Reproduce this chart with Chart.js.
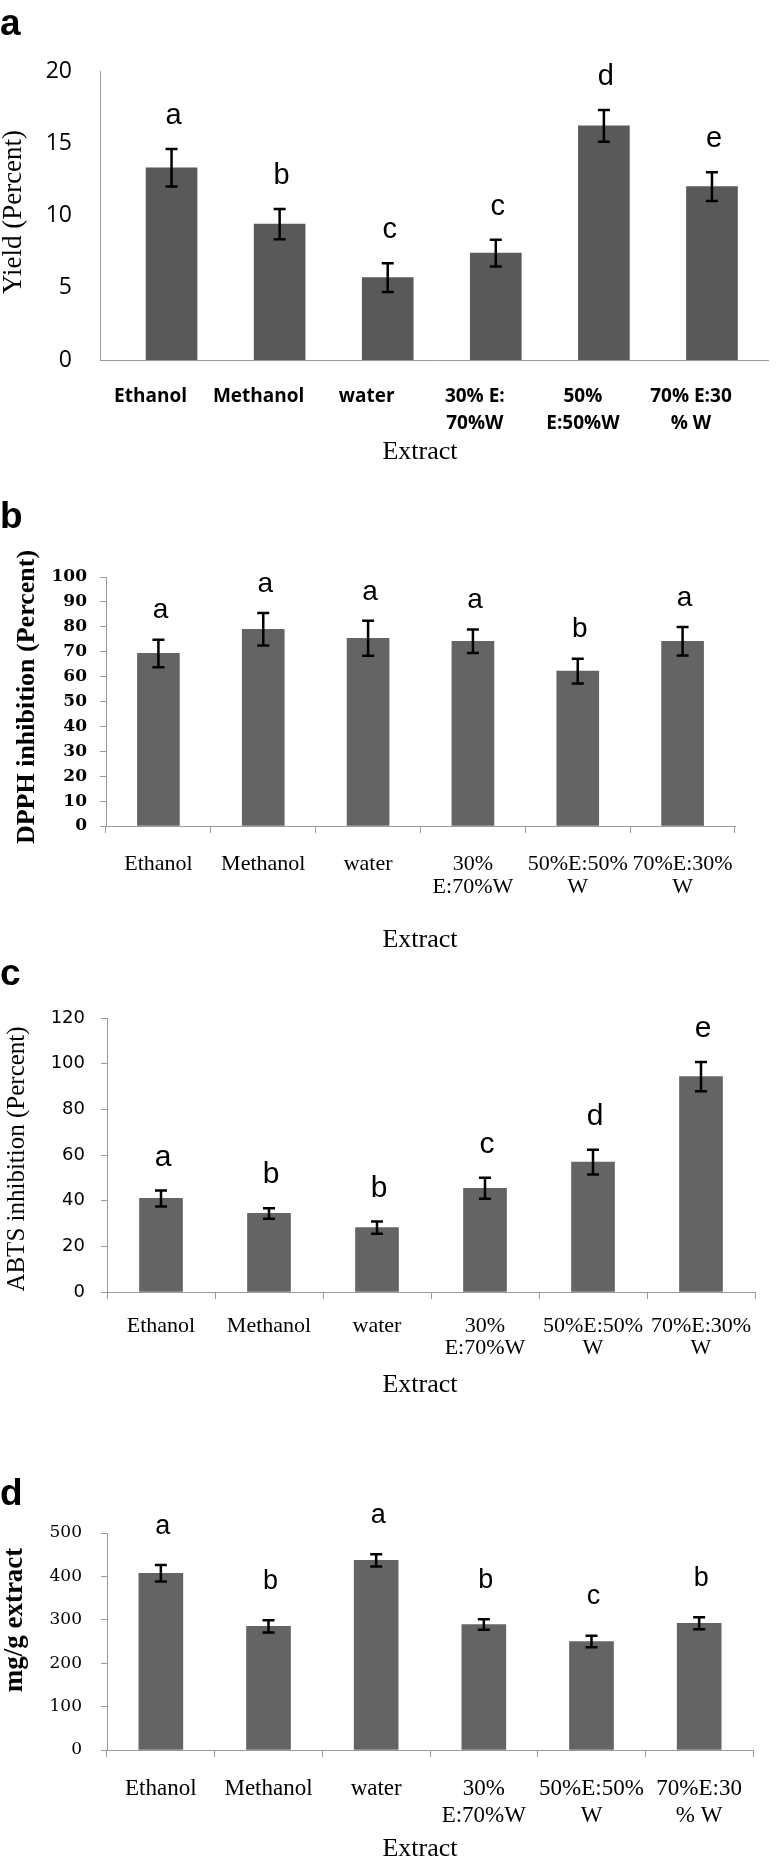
<!DOCTYPE html>
<html>
<head>
<meta charset="utf-8">
<script src="https://cdn.jsdelivr.net/npm/chart.js@4.4.1/dist/chart.umd.min.js"></script>
<style>
  html, body { margin: 0; padding: 0; background: #fff; overflow: hidden; }
  canvas { position: absolute; left: 0; }
</style>
</head>
<body>
<canvas id="chart-a" width="776" height="470" style="top:0px"></canvas>
<canvas id="chart-b" width="776" height="480" style="top:470px"></canvas>
<canvas id="chart-c" width="776" height="450" style="top:950px"></canvas>
<canvas id="chart-d" width="776" height="463" style="top:1400px"></canvas>
<script>
// (a) yield
const yieldLabels = [['Ethanol'], ['Methanol'], ['water'], ['30% E:', '70%W'], ['50%', 'E:50%W'], ['70% E:30', '% W']];
const yieldMean = [13.3, 9.4, 5.7, 7.4, 16.2, 12.0];
const yieldErr = [1.3, 1.05, 1.0, 0.93, 1.1, 1.0];
const yieldGroup = ['a', 'b', 'c', 'c', 'd', 'e'];
const yieldTicks = [0, 5, 10, 15, 20];

// (b) DPPH
const dpphLabels = [['Ethanol'], ['Methanol'], ['water'], ['30%', 'E:70%W'], ['50%E:50%', 'W'], ['70%E:30%', 'W']];
const dpphMean = [69.3, 79.0, 75.4, 74.2, 62.2, 74.2];
const dpphErr = [5.5, 6.5, 7.0, 4.7, 5.0, 5.7];
const dpphGroup = ['a', 'a', 'a', 'a', 'b', 'a'];
const dpphTicks = [0, 10, 20, 30, 40, 50, 60, 70, 80, 90, 100];

// (c) ABTS
const abtsLabels = [['Ethanol'], ['Methanol'], ['water'], ['30%', 'E:70%W'], ['50%E:50%', 'W'], ['70%E:30%', 'W']];
const abtsMean = [41.0, 34.4, 28.2, 45.4, 56.9, 94.3];
const abtsErr = [3.5, 2.3, 2.7, 4.6, 5.4, 6.4];
const abtsGroup = ['a', 'b', 'b', 'c', 'd', 'e'];
const abtsTicks = [0, 20, 40, 60, 80, 100, 120];

// (d) mg/g extract
const phenolLabels = [['Ethanol'], ['Methanol'], ['water'], ['30%', 'E:70%W'], ['50%E:50%', 'W'], ['70%E:30', '% W']];
const phenolMean = [407, 285, 437, 289, 250, 292];
const phenolErr = [19, 14, 14, 12, 13, 14];
const phenolGroup = ['a', 'b', 'a', 'b', 'c', 'b'];
const phenolTicks = [0, 100, 200, 300, 400, 500];

const SERIF = '"Liberation Serif", "Times New Roman", serif';
const SANS = '"Liberation Sans", Arial, sans-serif';
const AXIS = '#9a9a9a';

function buildPanel(id, p) {
    const canvas = document.getElementById(id);
    const H = canvas.height;

    // error bars, letters and titles
    const marks = {
        id: 'marks',
        afterDatasetsDraw(chart) {
            const c = chart.ctx;
            const yScale = chart.scales.y;
            const bars = chart.getDatasetMeta(0).data;
            c.save();
            c.strokeStyle = '#000';
            c.fillStyle = '#000';
            c.lineWidth = 2.5;
            c.font = p.letterFont;
            c.textAlign = 'center';
            c.textBaseline = 'middle';
            bars.forEach((bar, i) => {
                const x = bar.x;
                const hi = yScale.getPixelForValue(p.mean[i] + p.err[i]);
                const lo = yScale.getPixelForValue(p.mean[i] - p.err[i]);
                c.beginPath();
                c.moveTo(x, hi); c.lineTo(x, lo);
                c.moveTo(x - 6, hi); c.lineTo(x + 6, hi);
                c.moveTo(x - 6, lo); c.lineTo(x + 6, lo);
                c.stroke();
                c.fillText(p.group[i], x + 2, hi - p.letterGap);
            });
            c.restore();
        },
        afterDraw(chart) {
            const c = chart.ctx;
            c.save();
            c.fillStyle = '#000';
            c.font = 'bold 37px ' + SANS;
            c.textAlign = 'left';
            c.textBaseline = 'alphabetic';
            c.fillText(p.tag, 0, p.tagY);
            c.font = '26px ' + SERIF;
            c.textAlign = 'center';
            c.textBaseline = 'middle';
            c.fillText('Extract', 420, p.xTitleY);
            c.translate(p.yTitleX, p.yTitleY);
            c.rotate(-Math.PI / 2);
            c.font = p.yTitleFont;
            c.fillText(p.yTitle, 0, 0);
            c.restore();
        }
    };

    const yTickMarks = p.yTickLen > 0;
    const xScale = p.linearX ? {
        type: 'linear',
        min: p.xMin,
        max: p.xMax,
        offset: false,
        grid: { display: false, drawTicks: false },
        border: { display: true, color: AXIS },
        ticks: {
            stepSize: 1,
            includeBounds: false,
            autoSkip: false,
            maxRotation: 0,
            labelOffset: p.labelOffset,
            padding: p.xPad,
            color: '#000',
            font: p.xFont,
            callback: (v) => p.labels[v] || ''
        },
        afterFit: (s) => { s.height = H - p.bottom; }
    } : {
        type: 'category',
        offset: true,
        grid: { display: true, offset: true, drawOnChartArea: false, drawTicks: true, tickLength: 7, color: AXIS },
        border: { display: true, color: AXIS },
        ticks: { autoSkip: false, maxRotation: 0, padding: p.xPad, color: '#000', font: p.xFont },
        afterFit: (s) => { s.height = H - p.bottom; }
    };

    return new Chart(canvas, {
        type: 'bar',
        data: {
            labels: p.labels,
            datasets: [{
                data: p.linearX ? p.mean.map((v, i) => ({ x: i, y: v })) : p.mean,
                backgroundColor: p.barColor,
                borderWidth: 0,
                barThickness: p.barWidth
            }]
        },
        options: {
            responsive: false,
            animation: false,
            layout: { padding: { left: 0, right: 776 - p.right, top: p.top, bottom: 0 } },
            plugins: { legend: { display: false }, tooltip: { enabled: false } },
            scales: {
                x: xScale,
                y: {
                    min: p.ticks[0],
                    max: p.ticks[p.ticks.length - 1],
                    afterBuildTicks: (s) => { s.ticks = p.ticks.map(v => ({ value: v })); },
                    grid: { display: yTickMarks, drawOnChartArea: false, drawTicks: yTickMarks, tickLength: p.yTickLen, color: AXIS },
                    border: { display: true, color: AXIS },
                    ticks: { padding: p.yPad, color: '#000', font: p.yFont },
                    afterFit: (s) => { s.width = p.left; }
                }
            }
        },
        plugins: [marks]
    });
}

buildPanel('chart-a', {
    labels: yieldLabels, mean: yieldMean, err: yieldErr, group: yieldGroup, ticks: yieldTicks,
    linearX: true, xMin: -0.662, xMax: 5.524, labelOffset: -21,
    left: 100, right: 773, top: 71, bottom: 360,
    barWidth: 51, barColor: '#595959',
    yTickLen: 0, yPad: 28, yFont: { family: '"Open Sans", sans-serif', size: 23 },
    xPad: 23, xFont: { family: '"Open Sans", sans-serif', size: 19, weight: 'bold', lineHeight: '27px' },
    letterFont: '29px ' + SANS, letterGap: 33,
    tag: 'a', tagY: 35, xTitleY: 452,
    yTitle: 'Yield (Percent)', yTitleFont: '27px ' + SERIF, yTitleX: 14, yTitleY: 212
});

buildPanel('chart-b', {
    labels: dpphLabels, mean: dpphMean, err: dpphErr, group: dpphGroup, ticks: dpphTicks,
    left: 106, right: 735, top: 107, bottom: 356,
    barWidth: 42, barColor: '#646464',
    yTickLen: 6, yPad: 13, yFont: { family: '"DejaVu Serif", serif', size: 17, weight: 'bold' },
    xPad: 20, xFont: { family: SERIF, size: 22, lineHeight: '23px' },
    letterFont: '28px ' + SANS, letterGap: 29,
    tag: 'b', tagY: 58, xTitleY: 470,
    yTitle: 'DPPH inhibition (Percent)', yTitleFont: 'bold 26px ' + SERIF, yTitleX: 27, yTitleY: 227
});

buildPanel('chart-c', {
    labels: abtsLabels, mean: abtsMean, err: abtsErr, group: abtsGroup, ticks: abtsTicks,
    left: 107, right: 755, top: 68, bottom: 342,
    barWidth: 43, barColor: '#646464',
    yTickLen: 6, yPad: 16, yFont: { family: '"DejaVu Sans", sans-serif', size: 18 },
    xPad: 16, xFont: { family: SERIF, size: 22, lineHeight: '22px' },
    letterFont: '30px ' + SANS, letterGap: 33,
    tag: 'c', tagY: 35, xTitleY: 435,
    yTitle: 'ABTS inhibition (Percent)', yTitleFont: '25px ' + SERIF, yTitleX: 17, yTitleY: 209
});

buildPanel('chart-d', {
    labels: phenolLabels, mean: phenolMean, err: phenolErr, group: phenolGroup, ticks: phenolTicks,
    left: 107, right: 753, top: 133, bottom: 350,
    barWidth: 44, barColor: '#646464',
    yTickLen: 6, yPad: 19, yFont: { family: '"DejaVu Serif", serif', size: 17 },
    xPad: 18, xFont: { family: SERIF, size: 23, lineHeight: '27px' },
    letterFont: '27px ' + SANS, letterGap: 39,
    tag: 'd', tagY: 105, xTitleY: 449,
    yTitle: 'mg/g extract', yTitleFont: 'bold 27px ' + SERIF, yTitleX: 15, yTitleY: 220
});
</script>
</body>
</html>
